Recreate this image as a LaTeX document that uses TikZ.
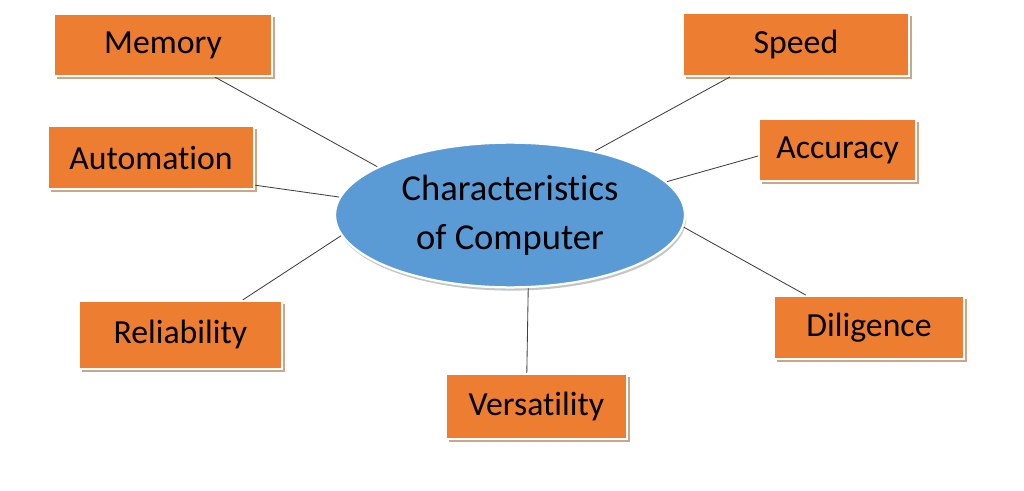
\documentclass[tikz,border=0pt]{standalone}
\usepackage{fontspec}
\setmainfont[Ligatures=NoCommon]{Carlito}
\usetikzlibrary{shapes.geometric, shadows}
\definecolor{boxfill}{HTML}{ED7D31}
\definecolor{boxshade}{HTML}{C9A68C}
\definecolor{ellfill}{HTML}{5B9BD5}
\definecolor{linkcol}{HTML}{404040}

\begin{document}
\begin{tikzpicture}[
  feature/.style={rectangle, draw=white, line width=1.6pt, fill=boxfill,
                  inner sep=0pt, font=\fontsize{24}{28}\selectfont,
                  drop shadow={shadow xshift=0.07cm, shadow yshift=-0.07cm,
                               fill=boxshade, opacity=1}},
  hub/.style={ellipse, draw=white, line width=1.6pt, fill=ellfill,
              minimum width=8.75cm, minimum height=3.62cm, inner sep=0pt,
              align=center, font=\fontsize{26}{35}\selectfont,
              drop shadow={shadow xshift=0.03cm, shadow yshift=-0.08cm,
                           fill=gray!45, opacity=1}},
  link/.style={line width=0.6pt, linkcol},
]

\useasboundingbox[fill=white] (0, 0) rectangle (25.6, -12.275);

\node[hub] (ell) at (12.75, -5.375) {Characteristics\\of Computer};

\node[feature, minimum width=5.45cm, minimum height=1.55cm] (mem) at (4.075, -1.125) {Memory};
\node[feature, minimum width=5.65cm, minimum height=1.57cm] (spd) at (19.9, -1.11) {Speed};
\node[feature, minimum width=5.15cm, minimum height=1.57cm] (aut) at (3.775, -3.94) {Automation};
\node[feature, minimum width=3.92cm, minimum height=1.55cm] (acc) at (20.94, -3.75) {Accuracy};
\node[feature, minimum width=5.07cm, minimum height=1.70cm] (rel) at (4.51, -8.375) {Reliability};
\node[feature, minimum width=4.75cm, minimum height=1.57cm] (dil) at (21.725, -8.19) {Diligence};
\node[feature, minimum width=4.52cm, minimum height=1.62cm] (ver) at (13.41, -10.16) {Versatility};

\draw[link] ([xshift=1.30cm]mem.south) -- (ell.160);
\draw[link] ([xshift=-1.65cm]spd.south) -- (ell.37.5);
\draw[link] ([yshift=-0.69cm]aut.east) -- (ell.174.5);
\draw[link] ([yshift=-0.15cm]acc.west) -- (ell.12.9);
\draw[link] ([xshift=1.56cm]rel.north) -- (ell.187.7);
\draw[link] ([xshift=-1.58cm]dil.north) -- (ell.356.7);
\draw[link] ([xshift=-0.24cm]ver.north) -- (ell.284);

\end{tikzpicture}
\end{document}
